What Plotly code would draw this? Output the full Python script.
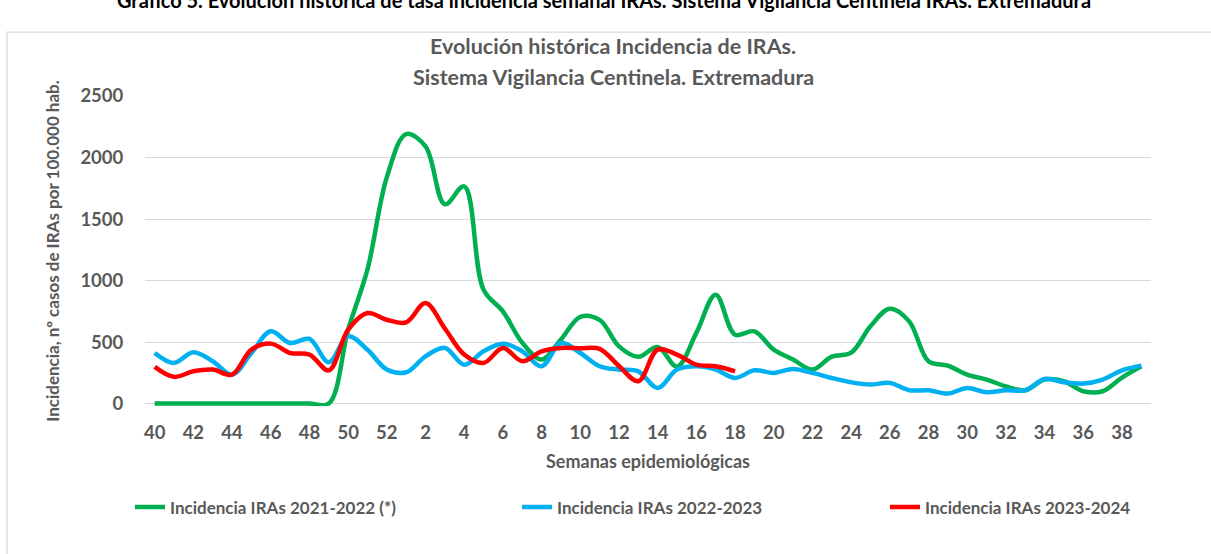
import plotly.graph_objects as go

weeks = ["40", "41", "42", "43", "44", "45", "46", "47", "48", "49", "50", "51", "52",
         "1", "2", "3", "4", "5", "6", "7", "8", "9", "10", "11", "12", "13", "14",
         "15", "16", "17", "18", "19", "20", "21", "22", "23", "24", "25", "26", "27",
         "28", "29", "30", "31", "32", "33", "34", "35", "36", "37", "38", "39"]

tick_weeks = ["40", "42", "44", "46", "48", "50", "52", "2", "4", "6", "8", "10", "12",
              "14", "16", "18", "20", "22", "24", "26", "28", "30", "32", "34", "36", "38"]

inc_2021_2022 = [0, 0, 0, 0, 0, 0, 0, 0, 0, 0, 600, 1090, 1840,
                 2190, 2090, 1620, 1765, 925, 750, 495, 357, 520, 705, 680, 465, 380, 460,
                 300, 575, 885, 560, 587, 438, 357, 276, 381, 413, 628, 770, 668,
                 343, 308, 235, 195, 140, 108, 195, 181, 100, 100, 211, 303]

inc_2022_2023 = [411, 330, 417, 344, 235, 411, 587, 492, 525, 335, 546, 438, 276,
                 254, 384, 452, 316, 425, 487, 425, 303, 492, 411, 303, 276, 262, 127,
                 276, 303, 276, 208, 270, 249, 281, 249, 208, 173, 154, 168, 108,
                 108, 81, 127, 92, 108, 108, 200, 173, 162, 195, 270, 308]

inc_2023_2024 = [298, 217, 262, 276, 235, 438, 487, 411, 398, 270, 600, 736, 681,
                 660, 817, 610, 398, 330, 452, 344, 425, 452, 449, 445, 305, 181, 438,
                 398, 316, 303, 262]

series_names = ["Incidencia IRAs 2021-2022 (*)", "Incidencia IRAs 2022-2023",
                "Incidencia IRAs 2023-2024"]
series_values = [inc_2021_2022, inc_2022_2023, inc_2023_2024]
series_colors = ["#00B050", "#00B0F0", "#FF0000"]

FONT = "Lato"
GREY = "#595959"

W, H = 1211, 554
L, R = 145, 1151          # plot area left/right in px
T, B = 96, 406.5          # plot area top/bottom in px


def px(xpix):
    return (xpix - L) / (R - L)


def py(ypix):
    return (B - ypix) / (B - T)


legend_ids = ["legend", "legend2", "legend3"]
legend_text_x = [171, 558, 926]   # where each legend label starts (px)
LEGEND_Y = 508

fig = go.Figure()
for name, vals, color, lid in zip(series_names, series_values, series_colors, legend_ids):
    fig.add_trace(go.Scatter(
        x=weeks[:len(vals)], y=vals, name=name, mode="lines", legend=lid,
        line=dict(color=color, width=4.5, shape="spline", smoothing=1.0),
    ))

legend_common = dict(
    orientation="h", xanchor="left", yanchor="middle", y=py(LEGEND_Y),
    font=dict(family=FONT, size=17, color=GREY, weight="bold"),
    bgcolor="rgba(0,0,0,0)", itemwidth=30,
)

fig.update_layout(
    width=W, height=H,
    margin=dict(l=L, r=W - R, t=T, b=H - B),
    paper_bgcolor="white", plot_bgcolor="white",
    font=dict(family=FONT, color=GREY),
    showlegend=True,
    legend=dict(x=px(legend_text_x[0] - 41), **legend_common),
    legend2=dict(x=px(legend_text_x[1] - 41), **legend_common),
    legend3=dict(x=px(legend_text_x[2] - 41), **legend_common),
    xaxis=dict(
        type="category", categoryorder="array", categoryarray=weeks,
        range=[-0.5, 51.5],
        tickvals=tick_weeks, ticktext=tick_weeks,
        ticks="outside", ticklen=10, tickcolor="rgba(0,0,0,0)",
        tickfont=dict(family=FONT, size=18.5, color=GREY, weight="bold"),
        showgrid=False, showline=False, zeroline=False,
        title=dict(text="Semanas epidemiológicas", standoff=13,
                   font=dict(family=FONT, size=18, color=GREY, weight="bold")),
    ),
    yaxis=dict(
        range=[-20, 2500], tickvals=[0, 500, 1000, 1500, 2000, 2500],
        ticks="outside", ticklen=17, tickcolor="rgba(0,0,0,0)",
        tickfont=dict(family=FONT, size=18.5, color=GREY, weight="bold"),
        showgrid=True, gridcolor="#D9D9D9", gridwidth=1.3,
        zeroline=False, showline=False,
        title=dict(text="Incidencia, nº casos de IRAs por 100.000 hab.", standoff=16,
                   font=dict(family=FONT, size=17, color=GREY, weight="bold")),
    ),
    shapes=[dict(type="rect", xref="paper", yref="paper",
                 x0=px(7), x1=px(1230), y0=py(32), y1=py(580),
                 line=dict(color="#D9D9D9", width=1.3), fillcolor="rgba(0,0,0,0)",
                 layer="below")],
    annotations=[
        dict(text="Gráfico 5. Evolución histórica de tasa incidencia semanal IRAs. "
                  "Sistema Vigilancia Centinela IRAs. Extremadura",
             xref="paper", yref="paper", x=px(604), y=py(0), xanchor="center",
             yanchor="middle", showarrow=False,
             font=dict(family=FONT, size=20, color="#000000", weight="bold")),
        dict(text="Evolución histórica Incidencia de IRAs.",
             xref="paper", yref="paper", x=px(613), y=py(46), xanchor="center",
             yanchor="middle", showarrow=False,
             font=dict(family=FONT, size=21.5, color=GREY, weight="bold")),
        dict(text="Sistema Vigilancia Centinela. Extremadura",
             xref="paper", yref="paper", x=px(613), y=py(77), xanchor="center",
             yanchor="middle", showarrow=False,
             font=dict(family=FONT, size=21.5, color=GREY, weight="bold")),
    ],
)

# remove the browser's default 8px body margin so the figure sits at the page origin
fig.write_html("out.html", config={"displayModeBar": False},
               post_script="document.body.style.margin='0px';")
